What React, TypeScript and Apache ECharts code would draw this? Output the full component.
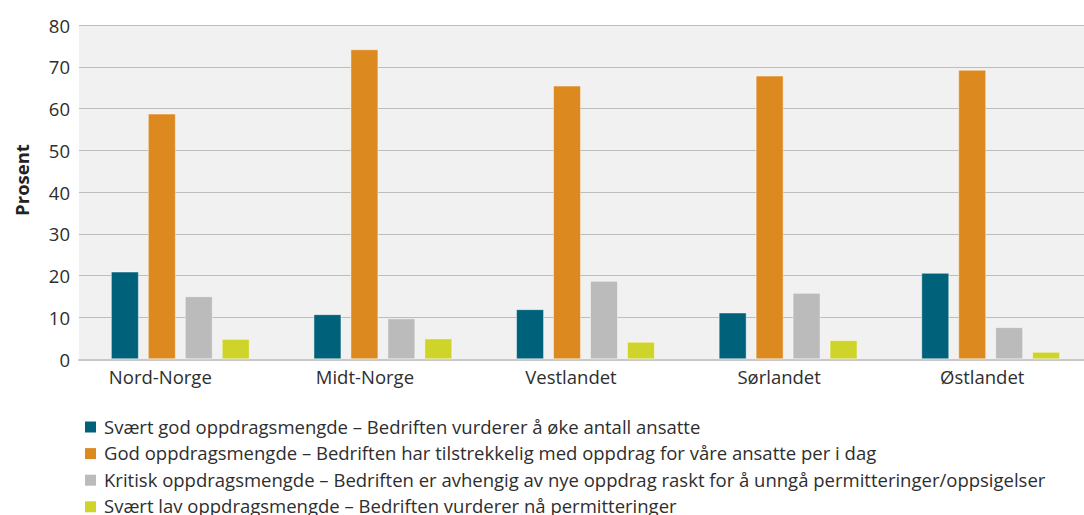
import React, { useEffect, useRef } from "react";
import * as echarts from "echarts";

const categories = ["Nord-Norge", "Midt-Norge", "Vestlandet", "Sørlandet", "Østlandet"];
const seriesNames = [
  "Svært god oppdragsmengde – Bedriften vurderer å øke antall ansatte",
  "God oppdragsmengde – Bedriften har tilstrekkelig med oppdrag for våre ansatte per i dag",
  "Kritisk oppdragsmengde – Bedriften er avhengig av nye oppdrag raskt for å unngå permitteringer/oppsigelser",
  "Svært lav oppdragsmengde – Bedriften vurderer nå permitteringer",
];
const sveertGod = [21.0, 10.8, 12.0, 11.2, 20.7];
const god = [58.8, 74.2, 65.5, 67.9, 69.3];
const kritisk = [15.1, 9.8, 18.8, 15.9, 7.7];
const sveertLav = [4.9, 5.0, 4.2, 4.6, 1.8];
const seriesValues = [sveertGod, god, kritisk, sveertLav];
const colors = ["#00627a", "#dc891f", "#bbbbbb", "#cfd42a"];
const labelShift = [40, 36, 29, 18, 17];

const FONT = "Open Sans";
const FS = 18.5;

export default function App() {
  const ref = useRef<HTMLDivElement>(null);
  useEffect(() => {
    if (!ref.current) return;
    const chart = echarts.init(ref.current, undefined, { renderer: "svg" });
    const rich: Record<string, any> = {};
    categories.forEach((_, i) => {
      rich["c" + i] = {
        fontFamily: FONT,
        fontSize: FS,
        color: "#2e2e2e",
        padding: [0, labelShift[i], 0, 0],
      };
    });
    const legendGraphics: any[] = [];
    seriesNames.forEach((name, i) => {
      const cy = 427 + i * 26.6;
      legendGraphics.push({
        type: "rect",
        shape: { x: 85, y: cy - 5.5, width: 11, height: 11 },
        style: { fill: colors[i] },
      });
      legendGraphics.push({
        type: "text",
        x: 104,
        y: cy - 1,
        style: {
          text: name,
          fontFamily: FONT,
          fontSize: FS,
          fill: "#2e2e2e",
          verticalAlign: "middle",
        },
      });
    });
    chart.setOption({
      animation: false,
      textStyle: { fontFamily: FONT },
      grid: {
        left: 79,
        top: 25,
        width: 1013,
        height: 334.3,
        show: true,
        backgroundColor: "#f1f1f1",
        borderWidth: 0,
        containLabel: false,
        outerBoundsMode: "none",
      },
      xAxis: {
        type: "category",
        data: categories,
        axisLine: { show: true, lineStyle: { color: "#c8c8c8", width: 2 } },
        axisTick: { show: false },
        axisLabel: {
          margin: 8,
          formatter: (v: string) => {
            const i = categories.indexOf(v);
            return "{c" + i + "|" + v + "}";
          },
          rich,
        },
      },
      yAxis: {
        type: "value",
        min: 0,
        max: 80,
        interval: 10,
        axisLine: { show: false },
        axisTick: { show: false },
        splitLine: { lineStyle: { color: "#bdbdbd", width: 1 } },
        axisLabel: { fontFamily: FONT, fontSize: FS, color: "#2e2e2e", margin: 9 },
      },
      graphic: [
        {
          type: "text",
          x: 21,
          y: 180,
          rotation: Math.PI / 2,
          style: {
            text: "Prosent",
            fontFamily: FONT,
            fontWeight: "bold",
            fontSize: 18.5,
            fill: "#222",
            align: "center",
            verticalAlign: "middle",
          },
        },
        ...legendGraphics,
      ],
      series: seriesValues.map((vals, i) => ({
        name: seriesNames[i],
        type: "bar",
        data: vals,
        barWidth: 28,
        barGap: "32%",
        itemStyle: {
          color: colors[i],
          borderColor: "rgba(255,255,255,0.45)",
          borderWidth: 1,
        },
      })),
    });
    return () => chart.dispose();
  }, []);
  return (
    <div
      ref={ref}
      style={{ position: "absolute", left: 0, top: 0, width: 1084, height: 515 }}
    />
  );
}
